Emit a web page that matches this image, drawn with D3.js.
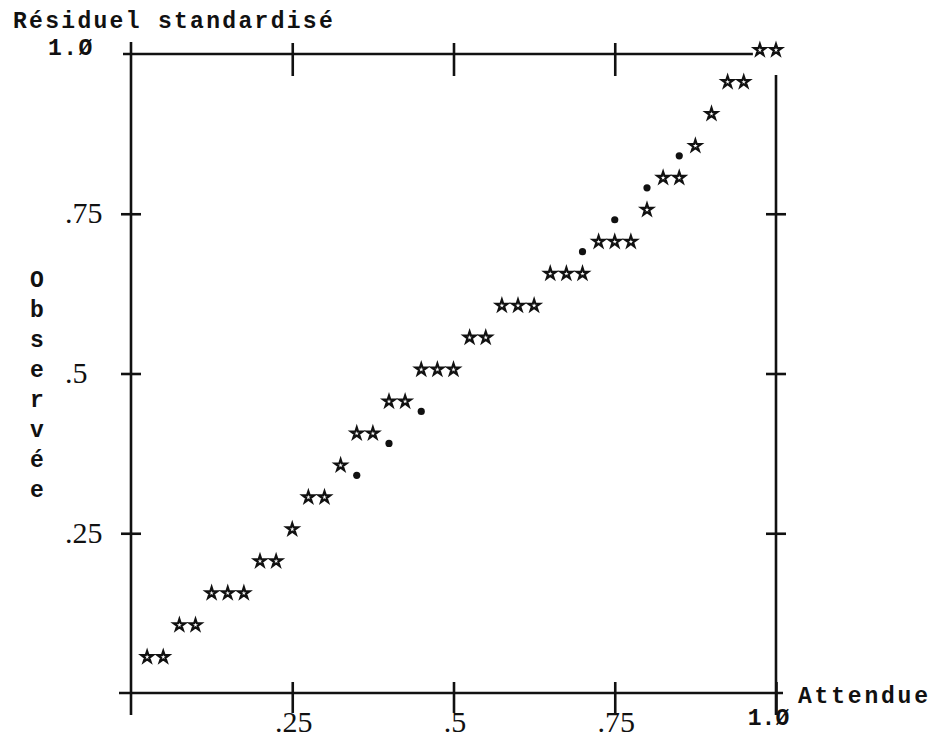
<!DOCTYPE html>
<html>
<head>
<meta charset="utf-8">
<script src="https://cdn.jsdelivr.net/npm/d3@7"></script>
<style>
  html, body { margin: 0; padding: 0; background: #fff; }
  svg { display: block; }
  .mono { font-family: "Liberation Mono", "DejaVu Sans Mono", monospace; font-weight: bold; fill: #111; }
  .serif { font-family: "Liberation Serif", "DejaVu Serif", serif; fill: #111; }
</style>
</head>
<body>
<svg id="chart" width="932" height="742"></svg>
<script>
// ---- data ----
const tickValues = [0.25, 0.5, 0.75, 1.0];
const tickLabels = [".25", ".5", ".75", "1.Ø"];
const xTitle = "Attendue";
const yTitleTop = "Résiduel standardisé";
const yTitleVertical = ["O", "b", "s", "e", "r", "v", "é", "e"];

// each "*" = one case: expected (x) and observed (y) cumulative probability
const starExpected = [0.025, 0.05, 0.075, 0.1, 0.125, 0.15, 0.175, 0.2, 0.225, 0.25,
                      0.275, 0.3, 0.325, 0.35, 0.375, 0.4, 0.425, 0.45, 0.475, 0.5,
                      0.525, 0.55, 0.575, 0.6, 0.625, 0.65, 0.675, 0.7, 0.725, 0.75,
                      0.775, 0.8, 0.825, 0.85, 0.875, 0.9, 0.925, 0.95, 0.975, 1.0];
const starObserved = [0.05, 0.05, 0.1, 0.1, 0.15, 0.15, 0.15, 0.2, 0.2, 0.25,
                      0.3, 0.3, 0.35, 0.4, 0.4, 0.45, 0.45, 0.5, 0.5, 0.5,
                      0.55, 0.55, 0.6, 0.6, 0.6, 0.65, 0.65, 0.65, 0.7, 0.7,
                      0.7, 0.75, 0.8, 0.8, 0.85, 0.9, 0.95, 0.95, 1.0, 1.0];
// "." = visible parts of the reference diagonal
const dotExpected = [0.35, 0.4, 0.45, 0.7, 0.75, 0.8, 0.85];
const dotObserved = [0.35, 0.4, 0.45, 0.7, 0.75, 0.8, 0.85];

(function () {
const svg = d3.select("#chart");
const x = d3.scaleLinear().domain([0, 1]).range([131, 776]);
const y = d3.scaleLinear().domain([0, 1]).range([693, 54]);
const ink = "#111";
const sw = 2.6;

const lineG = svg.append("g").attr("stroke", ink).attr("stroke-width", sw).attr("fill", "none");
lineG.append("line").attr("x1", x(0) - 12).attr("x2", x(1) + 7).attr("y1", y(0)).attr("y2", y(0));
lineG.append("line").attr("x1", x(0) - 8).attr("x2", x(0.975) - 7).attr("y1", y(1)).attr("y2", y(1));
lineG.append("line").attr("x1", x(0)).attr("x2", x(0)).attr("y1", y(1) - 12).attr("y2", y(0) + 22);
lineG.append("line").attr("x1", x(1)).attr("x2", x(1)).attr("y1", y(1) + 21).attr("y2", y(0) + 22);

const gBottom = svg.append("g").attr("transform", `translate(0,${y(0)})`)
  .call(d3.axisBottom(x).tickValues(tickValues).tickSizeOuter(0).tickSize(20)
        .tickFormat((d, i) => tickLabels[i]));
gBottom.select(".domain").remove();
gBottom.selectAll(".tick line").attr("y1", -11).attr("y2", 20).attr("stroke", ink).attr("stroke-width", sw);
gBottom.selectAll(".tick text")
  .attr("class", (d, i) => i === 3 ? "mono" : "serif")
  .attr("y", (d, i) => i === 3 ? 32 : 39).attr("dy", 0)
  .attr("dx", (d, i) => i === 3 ? -8 : 1)
  .style("font-size", (d, i) => i === 3 ? "23px" : "30px")
  .attr("fill", ink);

const gTop = svg.append("g").attr("transform", `translate(0,${y(1)})`)
  .call(d3.axisTop(x).tickValues(tickValues.slice(0, 3)).tickSizeOuter(0).tickFormat(""));
gTop.select(".domain").remove();
gTop.selectAll(".tick line").attr("y1", -11).attr("y2", 22).attr("stroke", ink).attr("stroke-width", sw);

const gLeft = svg.append("g").attr("transform", `translate(${x(0)},0)`)
  .call(d3.axisLeft(y).tickValues(tickValues.slice(0, 3)).tickSizeOuter(0)
        .tickFormat((d, i) => tickLabels[i]));
gLeft.select(".domain").remove();
gLeft.selectAll(".tick line").attr("x1", -10).attr("x2", 10).attr("stroke", ink).attr("stroke-width", sw);
gLeft.selectAll(".tick text").attr("class", "serif").attr("text-anchor", "start")
  .attr("x", 65 - x(0)).attr("dy", 9).style("font-size", "30px").attr("fill", ink);
svg.append("text").attr("class", "mono").attr("x", 48).attr("y", y(1) + 1)
  .style("font-size", "23px").style("letter-spacing", "1.5px").text(tickLabels[3]);

const gRight = svg.append("g").attr("transform", `translate(${x(1)},0)`)
  .call(d3.axisRight(y).tickValues(tickValues.slice(0, 3)).tickSizeOuter(0).tickFormat(""));
gRight.select(".domain").remove();
gRight.selectAll(".tick line").attr("x1", -10).attr("x2", 10).attr("stroke", ink).attr("stroke-width", sw);

svg.append("text").attr("class", "mono").attr("x", 13).attr("y", 28)
  .style("font-size", "23px").style("letter-spacing", "2.3px").text(yTitleTop);
svg.append("text").attr("class", "mono").attr("x", 798).attr("y", 703)
  .style("font-size", "23px").style("letter-spacing", "2.8px").text(xTitle);
svg.append("g").selectAll("text").data(yTitleVertical).join("text")
  .attr("class", "mono").attr("text-anchor", "middle")
  .attr("x", 37).attr("y", (d, i) => 287 + 30 * i)
  .style("font-size", "23px").text(d => d);

const stars = starExpected.map((e, i) => ({ e, o: starObserved[i] }));
const starPath = d3.symbol(d3.symbolStar, 40)();
svg.append("g").selectAll("path").data(stars).join("path")
  .attr("d", starPath)
  .attr("transform", d => `translate(${x(d.e)},${y(d.o) - 4})`)
  .attr("fill", "#fff").attr("stroke", ink).attr("stroke-width", 2.2).attr("stroke-linejoin", "miter");

const dots = dotExpected.map((e, i) => ({ e, o: dotObserved[i] }));
svg.append("g").selectAll("circle").data(dots).join("circle")
  .attr("cx", d => x(d.e)).attr("cy", d => y(d.o) + 6).attr("r", 3.6).attr("fill", ink);
})();
</script>
</body>
</html>
